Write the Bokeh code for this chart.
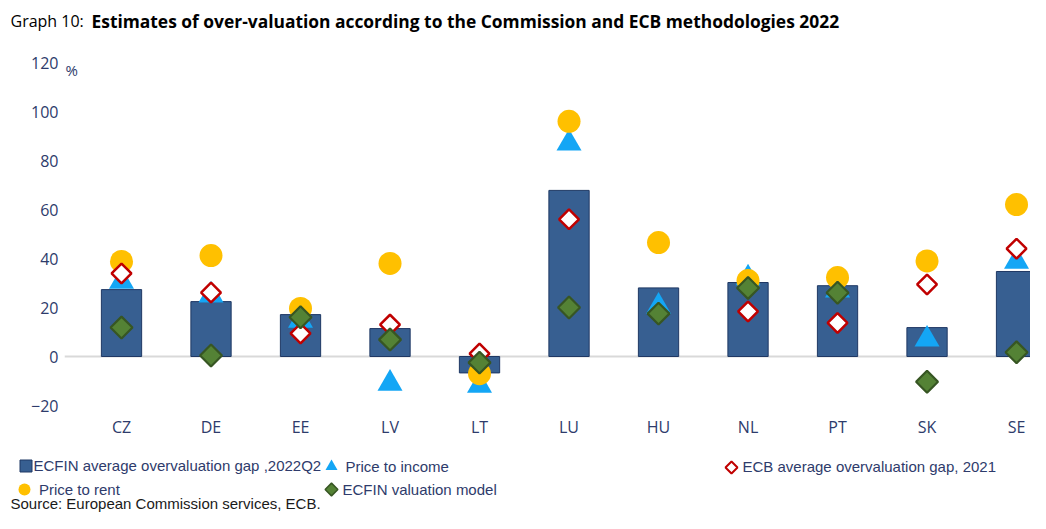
import math
from bokeh.plotting import figure
from bokeh.layouts import column
from bokeh.models import Range1d, FixedTicker, Span, Label, Legend, LegendItem, ColumnDataSource
from bokeh.embed import file_html
from bokeh.resources import INLINE

NAN = float("nan")

countries = ["CZ", "DE", "EE", "LV", "LT", "LU", "HU", "NL", "PT", "SK", "SE"]
ecfin_gap_2022q2 = [27.3, 22.4, 17.1, 11.4, -6.7, 67.8, 28.0, 30.2, 28.9, 11.8, 34.7]
price_to_income = [30.6, 25.0, 14.7, -11.0, -11.8, 87.0, 20.4, 32.0, 27.0, 7.0, 38.8]
ecb_gap_2021 = [33.9, 26.1, 9.4, 13.0, 1.2, 56.0, NAN, 18.4, 13.7, 29.4, 44.0]
price_to_rent = [38.8, 41.2, 19.6, 38.0, -7.0, 96.0, 46.5, 31.0, 32.2, 39.0, 62.0]
ecfin_model = [11.8, 0.4, 16.0, 6.9, -2.5, 20.0, 17.5, 28.0, 26.0, -10.3, 1.7]
y_ticks = [-20, 0, 20, 40, 60, 80, 100, 120]

NAVY = "#2E3B6B"
AXFONT = "Open Sans"
TFONT = "Open Sans"
LGFONT = "Liberation Sans"
W = 1030

BAR = dict(fill_color="#375F91", line_color="#1F3864", line_width=1)
TRI = dict(marker="triangle", fill_color="#14A6F5", line_color="#14A6F5", line_width=0)
CIRC = dict(marker="circle", fill_color="#FFC000", line_color="#FFC000", line_width=0)
RED = dict(marker="square", angle=math.pi / 4, fill_color="white", line_color="#C00000", line_width=2.5)
GREEN = dict(marker="square", angle=math.pi / 4, fill_color="#548235", line_color="#375623", line_width=2.2)


def blank(height):
    f = figure(width=W, height=height, output_backend="svg", toolbar_location=None,
               x_range=Range1d(0, W), y_range=Range1d(0, height),
               x_axis_location=None, y_axis_location=None, frame_align=False,
               min_border=0, min_border_left=0, min_border_right=0,
               min_border_top=0, min_border_bottom=0)
    f.outline_line_color = None
    f.xgrid.visible = False
    f.ygrid.visible = False
    return f


# ---------- title strip ----------
TH = 40
pt = blank(TH)
pt.add_layout(Label(x=10, y=TH - 20, text="Graph 10:", text_font=TFONT, text_font_size="16px",
                    text_color="#000000", text_baseline="middle"))
pt.add_layout(Label(x=91, y=TH - 20,
                    text="Estimates of over-valuation according to the Commission and ECB methodologies 2022",
                    text_font=TFONT, text_font_size="17.4px", text_font_style="bold",
                    text_color="#000000", text_baseline="middle"))

# ---------- main chart ----------
src = ColumnDataSource(dict(
    x=list(range(len(countries))),
    gap=ecfin_gap_2022q2,
    pti=price_to_income,
    ecb=ecb_gap_2021,
    ptr=price_to_rent,
    model=ecfin_model,
))

MH = 405
p = figure(width=W, height=MH, output_backend="svg", toolbar_location=None, frame_align=False,
           x_range=Range1d(-0.637, 10.156), y_range=Range1d(-24.08, 122.86),
           min_border_left=64, min_border_right=0, min_border_top=15, min_border_bottom=30)
p.outline_line_color = None
p.xgrid.visible = False
p.ygrid.visible = False

p.add_layout(Span(location=0, dimension="width", line_color="#D9D9D9", line_width=2, level="underlay"))

bars = p.vbar(x="x", top="gap", bottom=0, width=0.45, source=src, **BAR)
tri = p.scatter(x="x", y="pti", source=src, size=25, **TRI)
circ = p.scatter(x="x", y="ptr", source=src, size=23, **CIRC)
red = p.scatter(x="x", y="ecb", source=src, size=14, **RED)
green = p.scatter(x="x", y="model", source=src, size=15.5, **GREEN)

p.yaxis.ticker = FixedTicker(ticks=y_ticks)
p.xaxis.ticker = FixedTicker(ticks=list(range(len(countries))))
p.xaxis.major_label_overrides = {i: c for i, c in enumerate(countries)}
for ax in (p.xaxis[0], p.yaxis[0]):
    ax.axis_line_color = None
    ax.major_tick_line_color = None
    ax.minor_tick_line_color = None
    ax.major_tick_out = 0
    ax.major_tick_in = 0
    ax.major_label_text_font = AXFONT
    ax.major_label_text_font_size = "16px"
    ax.major_label_text_color = NAVY
p.yaxis.major_label_standoff = 6
p.xaxis.major_label_standoff = 0

p.add_layout(Label(x=1, y=346, x_units="screen", y_units="screen", text="%",
                   text_font=AXFONT, text_font_size="15px", text_color=NAVY,
                   text_baseline="middle"))

# ---------- legend + source strip ----------
BH = 68
pb = blank(BH)
# one hidden (NaN) point per legend renderer so the legend can draw its glyph
e = ColumnDataSource(dict(x=[NAN], y=[NAN]))
lb_bar = pb.vbar(x="x", top="y", width=1, source=e, **BAR)
lb_tri = pb.scatter(x="x", y="y", source=e, size=12, **TRI)
lb_circ = pb.scatter(x="x", y="y", source=e, size=12, **CIRC)
lb_none = pb.scatter(x="x", y="y", source=e, size=1, fill_alpha=0, line_alpha=0)

# rotated-square legend keys (the legend itself draws markers unrotated)
pb.scatter(x="kx", y="ky", source=ColumnDataSource(dict(kx=[731], ky=[46])), size=8.5,
           marker="square", angle=math.pi / 4, fill_color="white", line_color="#C00000", line_width=2)
pb.scatter(x="kx", y="ky", source=ColumnDataSource(dict(kx=[331], ky=[24])), size=9,
           marker="square", angle=math.pi / 4, fill_color="#548235", line_color="#375623", line_width=1.5)


def add_legend(renderer, label, loc, gw, gh, standoff):
    lg = Legend(items=[LegendItem(label=label, renderers=[renderer])], location=loc,
                orientation="vertical", glyph_width=gw, glyph_height=gh, label_height=gh,
                label_standoff=standoff, padding=0, margin=0, spacing=0,
                border_line_color=None, background_fill_alpha=0,
                label_text_font=LGFONT, label_text_font_size="15px",
                label_text_color=NAVY)
    pb.add_layout(lg, "center")


add_legend(lb_bar, "ECFIN average overvaluation gap ,2022Q2", (17.5, 39.5), 15, 15, 1)
add_legend(lb_circ, "Price to rent", (9, 9), 30, 30, -6)
add_legend(lb_tri, "Price to income", (315.5, 32), 30, 30, -6)
add_legend(lb_none, "ECFIN valuation model", (319.5, 12.5), 23, 23, -4)
add_legend(lb_none, "ECB average overvaluation gap, 2021", (719.5, 35.5), 23, 23, -2)

pb.add_layout(Label(x=10, y=10, text="Source: European Commission services, ECB.",
                    text_font=LGFONT, text_font_size="15px", text_color="#1A1A1A",
                    text_baseline="middle"))

layout = column(pt, p, pb, spacing=0)
open("out.html", "w").write(file_html(layout, INLINE))
